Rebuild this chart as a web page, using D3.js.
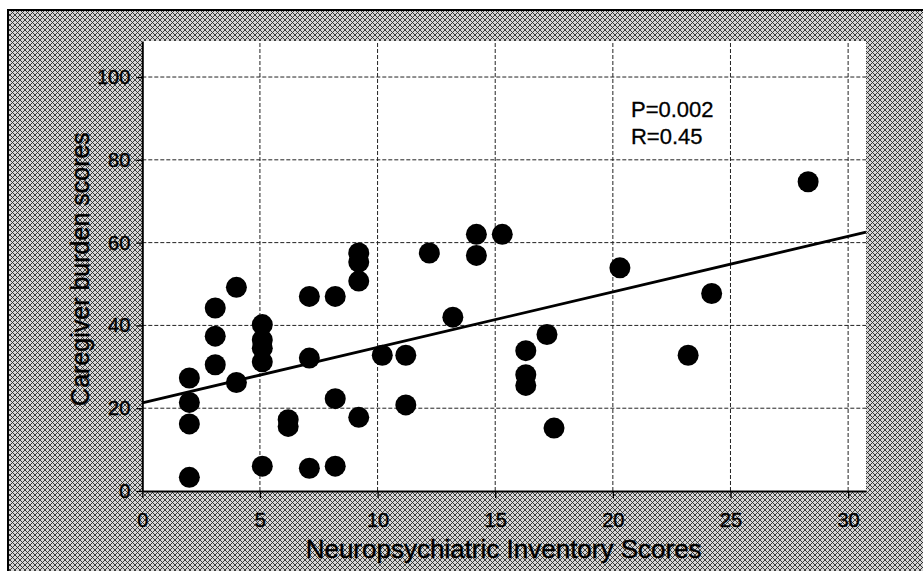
<!DOCTYPE html>
<html>
<head>
<meta charset="utf-8">
<script src="https://cdn.jsdelivr.net/npm/d3@7/dist/d3.min.js"></script>
<style>
  body { margin: 0; background: #fff; }
  svg { display: block; font-family: "Liberation Sans", Arial, Helvetica, sans-serif; }
</style>
</head>
<body>
<script>
// values
const npiScores = [2.0, 2.0, 2.0, 2.0, 3.1, 3.1, 3.1, 4.0, 4.0, 5.1, 5.1, 5.1, 5.1, 5.1,
  6.2, 6.2, 7.1, 7.1, 7.1, 8.2, 8.2, 8.2, 9.2, 9.2, 9.2, 9.2, 10.2, 11.2, 11.2, 12.2,
  13.2, 14.2, 14.2, 15.3, 16.3, 16.3, 16.3, 17.2, 17.5, 20.3, 23.2, 24.2, 28.3]
const burdenScores = [27.3, 21.4, 16.2, 3.3, 44.2, 37.4, 30.5, 49.2, 26.2, 40.2, 36.5, 34.5, 31.2, 6.0,
  17.2, 15.6, 47.0, 32.1, 5.5, 47.0, 22.3, 6.0, 57.5, 55.3, 50.7, 17.8, 32.8, 32.8, 20.8, 57.5,
  42.0, 62.0, 56.9, 62.0, 33.9, 28.1, 25.5, 37.8, 15.2, 53.9, 32.8, 47.7, 74.7]
const xTicks = [0, 5, 10, 15, 20, 25, 30]
const yTicks = [0, 20, 40, 60, 80, 100]
const xDomain = [0, 30.76]
const yDomain = [0, 108.7]
const fitIntercept = 21.3, fitSlope = 1.34
const statLines = ['P=0.002', 'R=0.45']
const xTitle = 'Neuropsychiatric Inventory Scores'
const yTitle = 'Caregiver burden scores'

let width = 923, height = 571
let plot = { left: 142.3, right: 866, top: 41, bottom: 491 }

let svg = d3.select('body').append('svg')
  .attr('width', width)
  .attr('height', height)

// halftone-ish screen behind the plot
let pat = svg.append('defs').append('pattern')
  .attr('id', 'halftone')
  .attr('patternUnits', 'userSpaceOnUse')
  .attr('width', 5).attr('height', 5)
pat.append('rect').attr('width', 5).attr('height', 5).attr('fill', '#d6d6d6')
pat.append('path').attr('d', 'M0,0L5,5M5,0L0,5')
  .attr('stroke', '#2a2a2a').attr('stroke-width', 0.9)

svg.append('rect')
  .attr('x', 8).attr('y', 10)
  .attr('width', width - 8).attr('height', height - 10)
  .attr('fill', 'url(#halftone)')
svg.append('path')
  .attr('d', `M8,${height}V10H${width}`)
  .attr('fill', 'none').attr('stroke', '#000').attr('stroke-width', 2)

let x = d3.scaleLinear().domain(xDomain).range([plot.left, plot.right])
let y = d3.scaleLinear().domain(yDomain).range([plot.bottom, plot.top])

svg.append('rect')
  .attr('x', plot.left).attr('y', plot.top)
  .attr('width', plot.right - plot.left).attr('height', plot.bottom - plot.top)
  .attr('fill', '#fff')

// dotted grid
let grid = svg.append('g')
  .attr('stroke', '#222').attr('stroke-width', 1).attr('stroke-dasharray', '4,2')
grid.selectAll('.hg').data(yTicks.filter(d => d > 0)).join('line')
  .attr('x1', plot.left).attr('x2', plot.right)
  .attr('y1', d => y(d)).attr('y2', d => y(d))
grid.selectAll('.vg').data(xTicks.filter(d => d > 0)).join('line')
  .attr('y1', plot.bottom).attr('y2', plot.top)
  .attr('x1', d => x(d)).attr('x2', d => x(d))

// axes
let xAxis = svg.append('g')
  .attr('transform', `translate(0,${plot.bottom})`)
  .call(d3.axisBottom(x).tickValues(xTicks).tickSize(7).tickSizeOuter(0).tickPadding(15))
let yAxis = svg.append('g')
  .attr('transform', `translate(${plot.left},0)`)
  .call(d3.axisLeft(y).tickValues(yTicks).tickSize(6).tickSizeOuter(0).tickPadding(6))

for (let ax of [xAxis, yAxis]) {
  ax.attr('font-family', null).attr('font-size', 20)
  ax.select('.domain').attr('stroke', '#000').attr('stroke-width', 2)
  ax.selectAll('.tick line').attr('stroke', '#000').attr('stroke-width', 1.3)
  ax.selectAll('.tick text').attr('fill', '#000')
    .attr('stroke', '#000').attr('stroke-width', 0.4)
}

// regression line
svg.append('line')
  .attr('x1', x(xDomain[0])).attr('y1', y(fitIntercept + fitSlope * xDomain[0]))
  .attr('x2', x(xDomain[1])).attr('y2', y(fitIntercept + fitSlope * xDomain[1]))
  .attr('stroke', '#000').attr('stroke-width', 2.8)

// points
svg.append('g').selectAll('circle')
  .data(npiScores.map((v, i) => [v, burdenScores[i]]))
  .join('circle')
  .attr('cx', d => x(d[0]))
  .attr('cy', d => y(d[1]))
  .attr('r', 10.5)
  .attr('fill', '#000')

svg.append('g').selectAll('text')
  .data(statLines)
  .join('text')
  .attr('x', x(20.77))
  .attr('y', (d, i) => y(90.3) + i * 27)
  .attr('font-size', 22)
  .attr('stroke', '#000').attr('stroke-width', 0.3)
  .text(d => d)

svg.append('text')
  .attr('x', (plot.left + plot.right) / 2 - 0.5)
  .attr('y', 558)
  .attr('text-anchor', 'middle')
  .attr('font-size', 26)
  .attr('stroke', '#000').attr('stroke-width', 0.4)
  .text(xTitle)

svg.append('text')
  .attr('transform', `translate(89,269)rotate(-90)`)
  .attr('text-anchor', 'middle')
  .attr('font-size', 25)
  .attr('stroke', '#000').attr('stroke-width', 0.4)
  .text(yTitle)
</script>
</body>
</html>
